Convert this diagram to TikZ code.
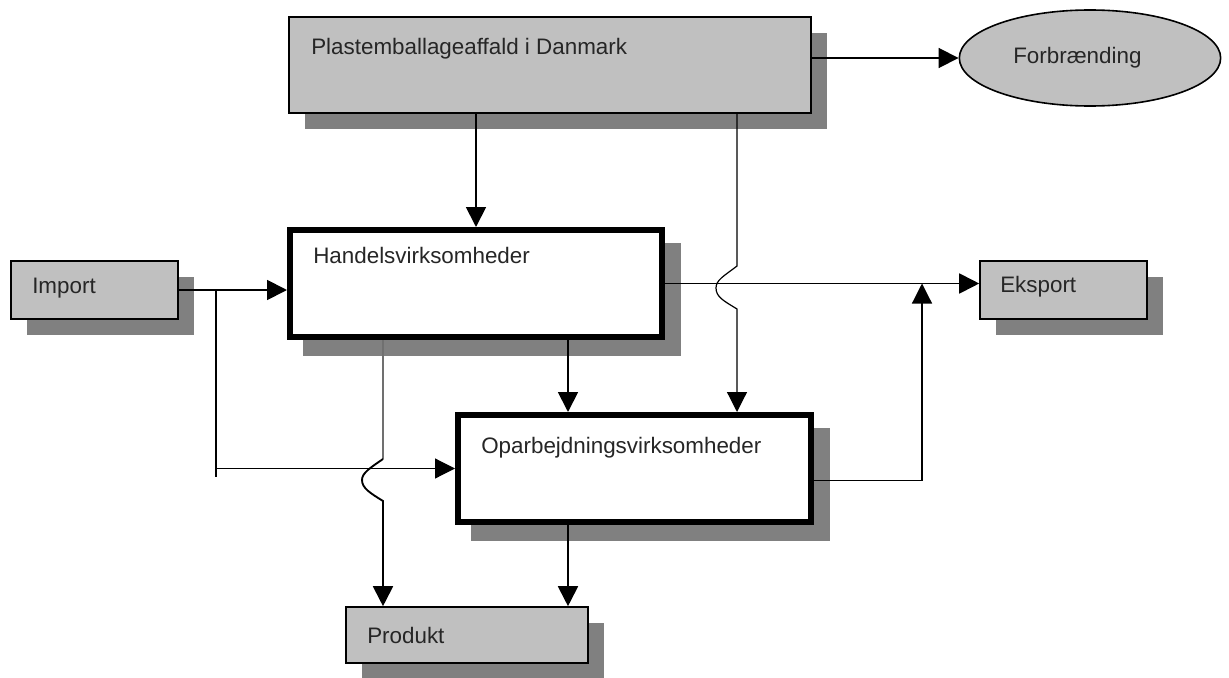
\documentclass[tikz,border=0pt]{standalone}
\usepackage{fontspec}
\setmainfont{Liberation Sans}
\usetikzlibrary{arrows.meta,fit,positioning,shapes.geometric,shadows}
\definecolor{boxgray}{HTML}{C0C0C0}
\definecolor{shadowgray}{HTML}{808080}
\definecolor{linegray}{HTML}{707070}

\begin{document}
\begin{tikzpicture}
    [
      x=0.75pt, y=-0.75pt,
      font=\fontsize{16.8pt}{20pt}\selectfont,
      source/.style={draw, line width=1.2pt, fill=boxgray, inner sep=0pt,
        drop shadow={shadow xshift=12pt, shadow yshift=-12pt, fill=shadowgray, opacity=1}},
      firm/.style={draw, line width=4.5pt, fill=white, inner sep=0pt,
        drop shadow={shadow xshift=12pt, shadow yshift=-12pt, fill=shadowgray,
          draw=shadowgray, line width=4.5pt, opacity=1}},
      sink/.style={ellipse, draw, line width=1.2pt, fill=boxgray,
        minimum width=196pt, minimum height=72pt},
      caption/.style={anchor=base west, inner sep=0pt, text=black!85},
      flow/.style={-{Triangle[length=15pt,width=15pt]}, line width=1.4pt},
      faint/.style={line width=0.9pt},
    ]
    \useasboundingbox (0,0) rectangle (1229,678);

    \node (plast) [source, fit={(289,17) (811,113)}] {};
    \node (plast-text) [caption] at (311,54) {Plastemballageaffald i Danmark};
    \node (forb) [sink] at (1090,58) {};
    \node (forb-text) [caption] at (1013,63) {Forbrænding};
    \node (import) [source, fit={(11,261) (178,319)}] {};
    \node (import-text) [caption] at (32,293) {Import};
    \node (handels) [firm, fit={(290,230) (662,337)}] {};
    \node (handels-text) [caption] at (313,263) {Handelsvirksomheder};
    \node (eksport) [source, fit={(980,261) (1147,319)}] {};
    \node (eksport-text) [caption] at (1000,292) {Eksport};
    \node (oparb) [firm, fit={(458,415) (811,522)}] {};
    \node (oparb-text) [caption] at (481,453) {Oparbejdningsvirksomheder};
    \node (produkt) [source, fit={(346,607) (588,663)}] {};
    \node (produkt-text) [caption] at (367,643) {Produkt};

    % columns of the vertical connectors
    \coordinate (split) at (216,0);
    \coordinate (col-product) at (383,0);
    \coordinate (col-trade) at (568,0);
    \coordinate (col-export) at (922,0);
    % where the line jumps over a crossing
    \coordinate (hop-waste) at (737,266);
    \coordinate (hop-product) at (383,459);

    \draw [flow] (plast.south -| handels.north) -- (handels.north);
    \draw [flow] (plast.east |- forb.west) -- (forb.west);
    \draw [flow] (import.east) -- (import.east -| handels.west);
    \draw [faint] (split |- import.east) -- ([yshift=-6pt]split |- oparb.west);
    \draw [flow, faint] (split |- oparb.west) -- (oparb.west);
    \draw [flow] (handels.east) -- (handels.east -| eksport.west);
    \draw [flow] (handels.south -| col-trade) -- (oparb.north -| col-trade);

    \draw [flow, faint] (plast.south -| hop-waste) -- (hop-waste)
      .. controls (724,276) and (716,280) .. (716,288)
      .. controls (716,297) and (724,301) .. (737,309)
      -- (oparb.north -| hop-waste);

    \draw [linegray, line width=1.2pt] (handels.south -| col-product) -- (hop-product);
    \draw [flow] (hop-product)
      .. controls (370,468) and (362,473) .. (362,480)
      .. controls (362,488) and (370,493) .. (383,501)
      -- (produkt.north -| col-product);

    \draw [flow] (oparb.south -| col-trade) -- (produkt.north -| col-trade);
    \draw [flow, faint] ([yshift=-9pt]oparb.east) -| (handels.east -| col-export);

\end{tikzpicture}
\end{document}
